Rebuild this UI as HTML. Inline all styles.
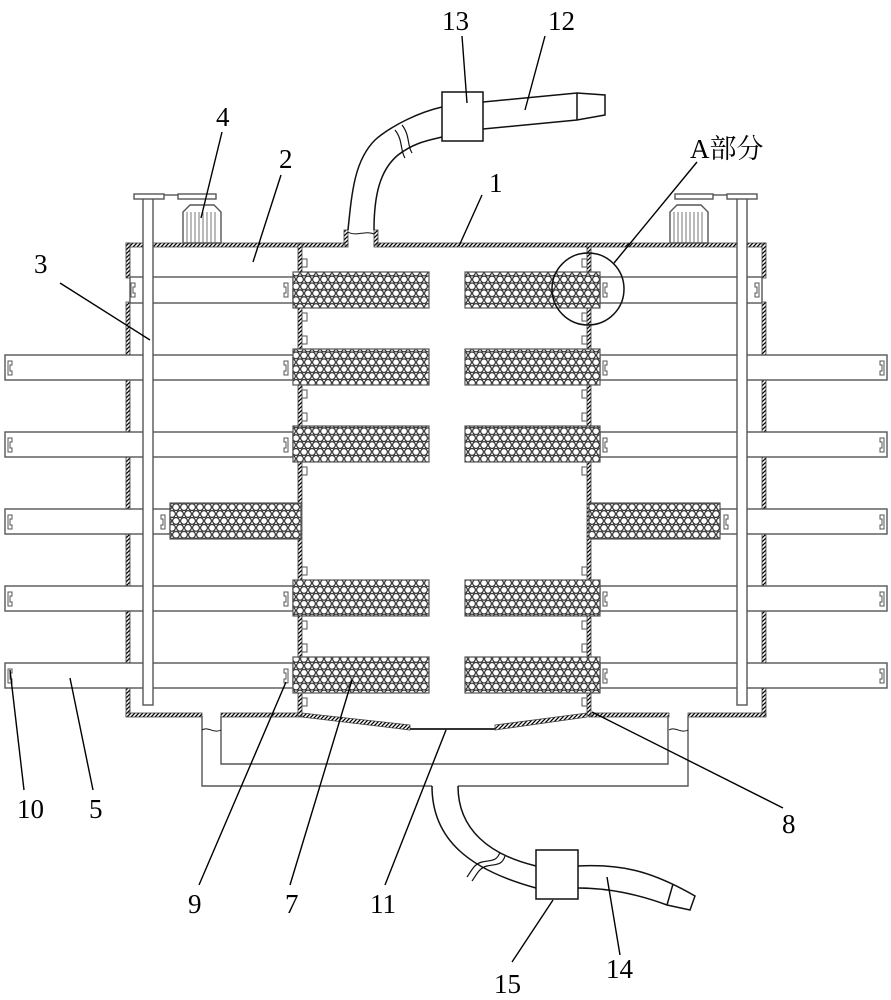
<!DOCTYPE html>
<html><head><meta charset="utf-8"><style>html,body{margin:0;padding:0;background:#fff}svg{display:block}text{font-family:"Liberation Serif","Noto Serif CJK SC",serif;font-size:27px;fill:#000}</style></head><body>
<svg width="891" height="1000" viewBox="0 0 891 1000" xmlns="http://www.w3.org/2000/svg">
<defs>
<pattern id="hx" width="8" height="13.8" patternUnits="userSpaceOnUse">
<rect width="8" height="13.8" fill="#fff"/>
<g fill="none" stroke="#222" stroke-width="1.1">
<circle cx="4" cy="3.45" r="3.4"/>
<circle cx="0" cy="10.35" r="3.4"/>
<circle cx="8" cy="10.35" r="3.4"/>
<circle cx="4" cy="17.25" r="3.4"/>
<circle cx="0" cy="-3.45" r="3.4"/>
<circle cx="8" cy="-3.45" r="3.4"/>
</g>
</pattern>
<pattern id="ht" width="4" height="4" patternUnits="userSpaceOnUse">
<rect width="4" height="4" fill="#fff"/><path d="M0 4L4 0M-1 1L1 -1M3 5L5 3" stroke="#000" stroke-width="1.3"/>
</pattern>
</defs>
<!-- hatched walls -->
<g fill="url(#ht)" stroke="#444" stroke-width="0.8">
<rect x="126" y="243" width="222" height="4"/>
<rect x="374" y="243" width="392" height="4"/>
<rect x="126" y="243" width="4" height="35"/>
<rect x="126" y="302" width="4" height="414"/>
<rect x="762" y="243" width="4" height="35"/>
<rect x="762" y="302" width="4" height="414"/>
<rect x="126" y="713" width="76" height="4"/>
<rect x="221" y="713" width="81" height="4"/>
<rect x="589" y="713" width="80" height="4"/>
<rect x="688" y="713" width="78" height="4"/>
<rect x="298" y="243" width="4" height="473"/>
<rect x="587" y="243" width="4" height="473"/>
<rect x="344" y="230" width="4" height="15"/>
<rect x="374" y="230" width="4" height="15"/>
<polygon points="302,713 410,725 410,730 302,717"/>
<polygon points="587,713 495,725 495,730 587,717"/>
</g>
<line x1="410" y1="729" x2="495" y2="729" stroke="#333" stroke-width="2"/>
<g fill="#fff" stroke="#555" stroke-width="1.4">
<rect x="130" y="277" width="163" height="26"/>
<rect x="5" y="355" width="288" height="25"/>
<rect x="5" y="432" width="288" height="25"/>
<rect x="5" y="509" width="165" height="25"/>
<rect x="5" y="586" width="288" height="25"/>
<rect x="5" y="663" width="288" height="25"/>
<rect x="600" y="277" width="162" height="26"/>
<rect x="600" y="355" width="287" height="25"/>
<rect x="600" y="432" width="287" height="25"/>
<rect x="720" y="509" width="167" height="25"/>
<rect x="600" y="586" width="287" height="25"/>
<rect x="600" y="663" width="287" height="25"/>
<rect x="143" y="198" width="10" height="507"/>
<rect x="737" y="198" width="10" height="507"/>
<rect x="134" y="194" width="30" height="5"/>
<rect x="178" y="194" width="38" height="5"/>
<rect x="727" y="194" width="30" height="5"/>
<rect x="675" y="194" width="38" height="5"/>
<path d="M183 243V212L190 205H214L221 212V243Z"/>
<path d="M670 243V212L677 205H701L708 212V243Z"/>
</g>
<g fill="none" stroke="#555" stroke-width="1.4">
<line x1="164" y1="195" x2="178" y2="195"/>
<line x1="713" y1="195" x2="727" y2="195"/>
<path d="M187 212V243M191 212V243M195 212V243M199 212V243M203 212V243M207 212V243M211 212V243M215 212V243" stroke-width="0.8"/>
<path d="M674 212V243M678 212V243M682 212V243M686 212V243M690 212V243M694 212V243M698 212V243M702 212V243" stroke-width="0.8"/>
<path d="M202 716V786H432M458 786H688V716"/>
<path d="M221 716V764H668V716"/>
</g>
<!-- filters -->
<g fill="url(#hx)" stroke="#555" stroke-width="1.2">
<rect x="293" y="272" width="136" height="36"/>
<rect x="293" y="349" width="136" height="36"/>
<rect x="293" y="426" width="136" height="36"/>
<rect x="170" y="503" width="131" height="36"/>
<rect x="293" y="580" width="136" height="36"/>
<rect x="293" y="657" width="136" height="36"/>
<rect x="465" y="272" width="135" height="36"/>
<rect x="465" y="349" width="135" height="36"/>
<rect x="465" y="426" width="135" height="36"/>
<rect x="589" y="503" width="131" height="36"/>
<rect x="465" y="580" width="135" height="36"/>
<rect x="465" y="657" width="135" height="36"/>
</g>
<g fill="#fff" stroke="#555" stroke-width="1">
<rect x="302" y="259" width="5" height="8"/><rect x="302" y="313" width="5" height="8"/>
<rect x="302" y="336" width="5" height="8"/><rect x="302" y="390" width="5" height="8"/>
<rect x="302" y="413" width="5" height="8"/><rect x="302" y="467" width="5" height="8"/>
<rect x="302" y="567" width="5" height="8"/><rect x="302" y="621" width="5" height="8"/>
<rect x="302" y="644" width="5" height="8"/><rect x="302" y="698" width="5" height="8"/>
<rect x="582" y="259" width="5" height="8"/><rect x="582" y="313" width="5" height="8"/>
<rect x="582" y="336" width="5" height="8"/><rect x="582" y="390" width="5" height="8"/>
<rect x="582" y="413" width="5" height="8"/><rect x="582" y="467" width="5" height="8"/>
<rect x="582" y="567" width="5" height="8"/><rect x="582" y="621" width="5" height="8"/>
<rect x="582" y="644" width="5" height="8"/><rect x="582" y="698" width="5" height="8"/>
</g>
<g fill="none" stroke="#555" stroke-width="1">
<path d="M8 361h4v4h-2v6h2v4h-4z"/><path d="M8 438h4v4h-2v6h2v4h-4z"/><path d="M8 515h4v4h-2v6h2v4h-4z"/><path d="M8 592h4v4h-2v6h2v4h-4z"/><path d="M8 669h4v4h-2v6h2v4h-4z"/>
<path d="M884 361h-4v4h2v6h-2v4h4z"/><path d="M884 438h-4v4h2v6h-2v4h4z"/><path d="M884 515h-4v4h2v6h-2v4h4z"/><path d="M884 592h-4v4h2v6h-2v4h4z"/><path d="M884 669h-4v4h2v6h-2v4h4z"/>
<path d="M131 283h4v4h-2v6h2v4h-4z"/><path d="M759 283h-4v4h2v6h-2v4h4z"/>
<path d="M288 283h-4v4h2v6h-2v4h4z"/><path d="M288 361h-4v4h2v6h-2v4h4z"/><path d="M288 438h-4v4h2v6h-2v4h4z"/><path d="M165 515h-4v4h2v6h-2v4h4z"/><path d="M288 592h-4v4h2v6h-2v4h4z"/><path d="M288 669h-4v4h2v6h-2v4h4z"/>
<path d="M603 283h4v4h-2v6h2v4h-4z"/><path d="M603 361h4v4h-2v6h2v4h-4z"/><path d="M603 438h4v4h-2v6h2v4h-4z"/><path d="M724 515h4v4h-2v6h2v4h-4z"/><path d="M603 592h4v4h-2v6h2v4h-4z"/><path d="M603 669h4v4h-2v6h2v4h-4z"/>
</g>
<g fill="none" stroke="#111" stroke-width="1.5">
<path d="M348 230C352 190 355 160 375 140C392 125 420 112 442 107"/>
<path d="M374 230C374 195 380 170 398 155C415 142 430 140 442 137"/>
<rect x="442" y="92" width="41" height="49" fill="#fff"/>
<path d="M483 102L577 93L605 95V115L577 120L483 129"/>
<line x1="577" y1="93" x2="577" y2="120"/>
<path d="M395 130c8 10 5 20 10 28M402 125c8 10 5 20 10 28" stroke-width="1.2"/>
<path d="M432 786C432 840 470 870 536 888"/>
<path d="M458 786C458 830 490 855 536 866"/>
<rect x="536" y="850" width="42" height="49" fill="#fff"/>
<path d="M578 866C620 864 650 870 695 896L690 910L667 905C640 895 610 888 578 888"/>
<line x1="673" y1="884" x2="667" y2="905"/>
<path d="M500 852c-3 10 -10 8 -18 10s-10 8 -15 15M505 856c-3 10 -10 8 -18 10s-10 8 -15 15" stroke-width="1.2"/>
<path d="M348 232c8 5 18 -2 26 2" stroke-width="1"/>
<path d="M202 730c6 -4 12 4 19 0" stroke-width="1"/>
<path d="M669 730c6 -4 12 4 19 0" stroke-width="1"/>
<circle cx="588" cy="289" r="36"/>
</g>
<g stroke="#000" stroke-width="1.4">
<line x1="462" y1="36" x2="467" y2="103"/>
<line x1="545" y1="36" x2="525" y2="110"/>
<line x1="222" y1="132" x2="201" y2="218"/>
<line x1="281" y1="175" x2="253" y2="262"/>
<line x1="697" y1="162" x2="614" y2="263"/>
<line x1="482" y1="195" x2="459" y2="246"/>
<line x1="60" y1="283" x2="150" y2="340"/>
<line x1="24" y1="790" x2="10" y2="670"/>
<line x1="93" y1="790" x2="70" y2="678"/>
<line x1="199" y1="885" x2="286" y2="682"/>
<line x1="290" y1="885" x2="352" y2="680"/>
<line x1="385" y1="885" x2="446" y2="730"/>
<line x1="783" y1="808" x2="592" y2="712"/>
<line x1="512" y1="962" x2="553" y2="900"/>
<line x1="620" y1="955" x2="607" y2="877"/>
</g>
<text x="442" y="30">13</text>
<text x="548" y="30">12</text>
<text x="216" y="126">4</text>
<text x="279" y="168">2</text>
<text x="690" y="158">A部分</text>
<text x="489" y="192">1</text>
<text x="34" y="273">3</text>
<text x="17" y="818">10</text>
<text x="89" y="818">5</text>
<text x="782" y="833">8</text>
<text x="188" y="913">9</text>
<text x="285" y="913">7</text>
<text x="370" y="913">11</text>
<text x="494" y="993">15</text>
<text x="606" y="978">14</text>
</svg>
</body></html>
